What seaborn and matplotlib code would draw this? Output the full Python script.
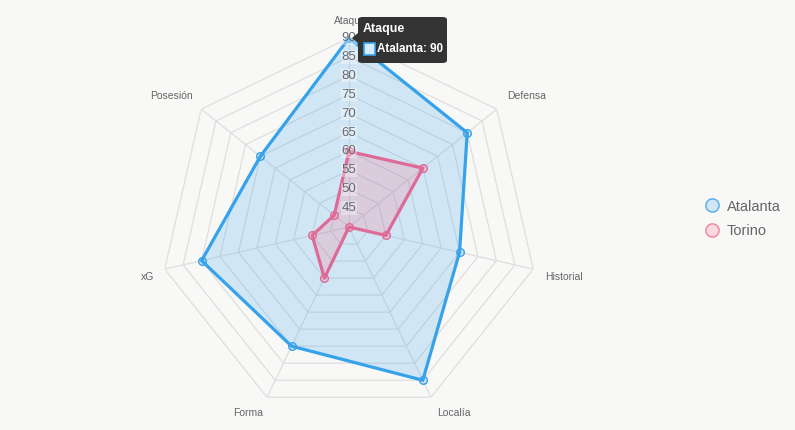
import numpy as np
import pandas as pd
import matplotlib
matplotlib.use("Agg")
import matplotlib.pyplot as plt
from matplotlib.patches import FancyBboxPatch, Polygon, Rectangle
from matplotlib.lines import Line2D
import seaborn as sns

# ---- data ----
categories = ["Ataque", "Defensa", "Historial", "Localía", "Forma", "xG", "Posesión"]
atalanta = [90, 80, 70, 85, 75, 80, 70]
torino = [60, 65, 50, 40, 55, 50, 45]
teams = ["Atalanta", "Torino"]
tick_values = [45, 50, 55, 60, 65, 70, 75, 80, 85, 90]
r_min, r_max = 40, 90
tooltip_title = "Ataque"
tooltip_label = "Atalanta: 90"

# ---- style ----
BG = "#f8f8f7"
BLUE = "#36a2eb"
PINK = "#de6a98"
GRID = "#dedede"
TXT = "#666666"
FILL_BLUE = (54 / 255, 162 / 255, 235 / 255, 0.2)
FILL_PINK = (255 / 255, 99 / 255, 132 / 255, 0.2)

sns.set_theme(style="white")
plt.rcParams["font.family"] = ["Liberation Sans", "DejaVu Sans"]

fig = plt.figure(figsize=(7.95, 4.30), dpi=100)
fig.patch.set_facecolor(BG)

cx, cy, R = 349, 227, 189
W, H = 795, 430
ax = fig.add_axes([(cx - R) / W, (H - cy - R) / H, 2 * R / W, 2 * R / H], projection="polar")
ax.set_facecolor("none")
ax.set_theta_zero_location("N")
ax.set_theta_direction(-1)
ax.grid(False)
ax.spines["polar"].set_visible(False)

n = len(categories)
theta = np.linspace(0, 2 * np.pi, n, endpoint=False)
theta_closed = np.append(theta, 2 * np.pi)

# grid rings (polygonal) and spokes
for r in tick_values:
    ax.plot(theta_closed, [r] * (n + 1), color=GRID, lw=0.9, zorder=1)
for t in theta:
    ax.plot([t, t], [r_min, r_max], color=GRID, lw=0.9, zorder=1)

# long-form data
rows = []
for team, vals in zip(teams, [atalanta, torino]):
    vc = list(vals) + [vals[0]]
    for t, v in zip(theta_closed, vc):
        rows.append({"theta": t, "value": v, "team": team})
df = pd.DataFrame(rows)

palette = {"Atalanta": BLUE, "Torino": PINK}
fills = {"Atalanta": FILL_BLUE, "Torino": FILL_PINK}

for team in teams:
    sub = df[df.team == team]
    ax.fill(sub["theta"], sub["value"], color=fills[team], zorder=2, lw=0)

n_before = len(ax.lines)
sns.lineplot(data=df, x="theta", y="value", hue="team", palette=palette,
             sort=False, estimator=None, units="team", ax=ax, lw=2.3,
             marker="o", markersize=5.5, legend=False, zorder=3)
for line in ax.lines[n_before:]:
    c = line.get_color()
    line.set_markeredgecolor(c)
    line.set_markeredgewidth(1.0)
    line.set_markerfacecolor(FILL_BLUE if c == BLUE else FILL_PINK)

ax.set_xlabel("")
ax.set_ylabel("")
ax.set_ylim(r_min, r_max)
ax.set_xticks([])
ax.set_yticks([])

# tick labels
for v in tick_values:
    ax.text(0, v, str(v), ha="center", va="center", fontsize=9.5, color="#666a70", zorder=5,
            bbox=dict(facecolor="white", alpha=0.35, edgecolor="none", pad=0.5))

# category labels (offsets in pixels from the outer vertex)
lab_ha = ["center", "left", "left", "left", "right", "right", "right"]
lab_dx = [1, 10, 12, 6, -4, -10, -8]
lab_dy = [17, 13.5, -7.7, -15.3, -15.3, -7.7, 13.5]
for t, lab, ha, dx, dy in zip(theta, categories, lab_ha, lab_dx, lab_dy):
    ax.annotate(lab, xy=(t, r_max), xytext=(dx * 0.72, dy * 0.72), textcoords="offset points",
                ha=ha, va="center", fontsize=7.5, color=TXT, zorder=5, annotation_clip=False)

# legend
handles = [
    Line2D([], [], marker="o", linestyle="none", markersize=9.5,
           markerfacecolor=FILL_BLUE, markeredgecolor="#5fb0eb", markeredgewidth=1.1),
    Line2D([], [], marker="o", linestyle="none", markersize=9.5,
           markerfacecolor=FILL_PINK, markeredgecolor="#f28aa0", markeredgewidth=1.1),
]
leg = fig.legend(handles, teams, loc="center left", bbox_to_anchor=(705 / W, 1 - 219 / H),
                 frameon=False, fontsize=10.5, handlelength=1.0, handletextpad=0.5,
                 labelspacing=0.75, borderaxespad=0, borderpad=0)
for t in leg.get_texts():
    t.set_color(TXT)

# tooltip
def fx(px):
    return px / W

def fy(py):
    return 1 - py / H

box = FancyBboxPatch((fx(358), fy(63)), fx(447) - fx(358), fy(17) - fy(63),
                     boxstyle="round,pad=0,rounding_size=0.006", transform=fig.transFigure,
                     facecolor="#333333", edgecolor="none", zorder=10)
fig.patches.append(box)
caret = Polygon([[fx(358), fy(33)], [fx(358), fy(43)], [fx(352), fy(38)]], closed=True,
                transform=fig.transFigure, facecolor="#333333", edgecolor="none", zorder=10)
fig.patches.append(caret)
sq = Rectangle((fx(363.5), fy(55)), fx(11), fy(43) - fy(55), transform=fig.transFigure,
               facecolor="#d7ecfb", edgecolor=BLUE, lw=1.2, zorder=11)
fig.patches.append(sq)
fig.text(fx(363), fy(29), tooltip_title, color="white", fontsize=9, fontweight="bold",
         ha="left", va="center", zorder=12)
fig.text(fx(377), fy(49), tooltip_label, color="white", fontsize=8.4, fontweight="bold",
         ha="left", va="center", zorder=12)

fig.savefig("out.png", dpi=100, facecolor=BG)
